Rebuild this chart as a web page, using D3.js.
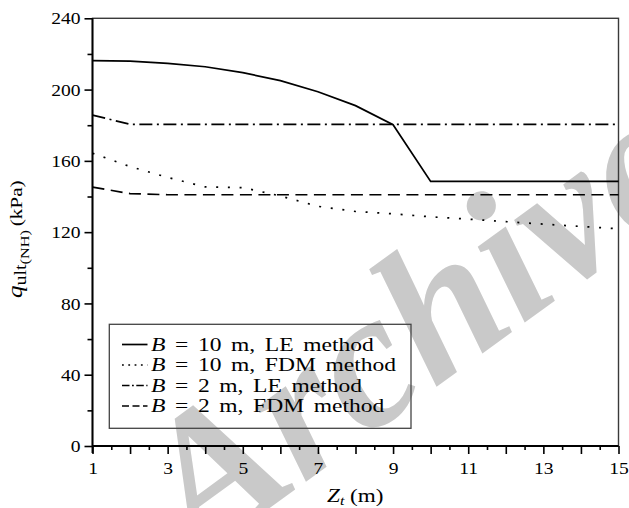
<!DOCTYPE html>
<html>
<head>
<meta charset="utf-8">
<script src="https://cdn.jsdelivr.net/npm/d3@7"></script>
<style>
  html, body { margin: 0; padding: 0; background: #fff; }
  svg { display: block; }
  text { font-family: "Liberation Serif", "Times New Roman", serif; fill: #000; }
</style>
</head>
<body>
<svg id="chart" width="629" height="508"></svg>
<script>
// Embedment depth Z_t (m)
const zt = [1, 2, 3, 4, 5, 6, 7, 8, 9, 10, 11, 12, 13, 14, 15];
// Ultimate bearing capacity q_ult(NH) (kPa)
const qB10LE  = [216.3, 216.0, 214.7, 212.8, 209.5, 205.0, 198.8, 191.0, 180.3, 148.5, 148.5, 148.5, 148.5, 148.5, 148.5];
const qB10FDM = [164.3, 156.8, 150.7, 145.4, 145.0, 140.3, 134.5, 131.6, 130.3, 128.6, 127.3, 125.9, 124.5, 123.2, 121.9];
const qB2LE   = [185.7, 180.5, 180.5, 180.5, 180.5, 180.5, 180.5, 180.5, 180.5, 180.5, 180.5, 180.5, 180.5, 180.5, 180.5];
const qB2FDM  = [145.3, 141.6, 141.0, 141.0, 141.0, 141.0, 141.0, 141.0, 141.0, 141.0, 141.0, 141.0, 141.0, 141.0, 141.0];

const xTickLabels = [1, 3, 5, 7, 9, 11, 13, 15];
const yTickLabels = [0, 40, 80, 120, 160, 200, 240];

const legendB      = ["10", "10", "2", "2"];
const legendMethod = ["LE method", "FDM method", "LE method", "FDM method"];

const series = [
  { values: qB10LE,  dash: null,             legDash: null },
  { values: qB10FDM, dash: "2 9.7",          legDash: "1.8 4.5" },
  { values: qB2LE,   dash: "13 4.5 2 4.5",   legDash: "7.5 2.5 1.8 2.5" },
  { values: qB2FDM,  dash: "12 6.5",         legDash: "7 3.5" }
];

const svg = d3.select("#chart");
const plotL = 92.5, plotR = 618.5, plotT = 18.3, plotB = 446;
const x = d3.scaleLinear().domain([1, 15]).range([plotL, plotR]);
const y = d3.scaleLinear().domain([0, 240]).range([plotB, plotT]);

// horizontally widen a single-run text element by factor k
function widen(sel, k) {
  sel.each(function () {
    const w = this.getComputedTextLength();
    d3.select(this).attr("textLength", w * k).attr("lengthAdjust", "spacingAndGlyphs");
  });
}

// faint diagonal watermark behind the plot
svg.append("text")
  .attr("transform", "translate(198,560) rotate(-36)")
  .style("font-size", "194px")
  .style("font-weight", "bold")
  .style("font-style", "italic")
  .style("fill", "#c9c9c9")
  .text("Archive");

// frame
svg.append("rect")
  .attr("x", plotL).attr("y", plotT)
  .attr("width", plotR - plotL).attr("height", plotB - plotT)
  .attr("fill", "none").attr("stroke", "#3a3a3a").attr("stroke-width", 1.4);

// curves
const line = d3.line().x((d, i) => x(zt[i])).y(d => y(d));
series.forEach(s => {
  svg.append("path")
    .datum(s.values)
    .attr("d", line)
    .attr("fill", "none")
    .attr("stroke", "#000")
    .attr("stroke-width", 1.7)
    .attr("stroke-dasharray", s.dash);
});

// x axis: integer ticks, half ticks, labels on odd values
svg.append("g").attr("transform", `translate(0,${plotB})`)
  .call(d3.axisBottom(x).tickValues(d3.range(1, 16)).tickSize(8).tickPadding(8)
    .tickFormat(d => xTickLabels.includes(d) ? d : ""));
svg.append("g").attr("transform", `translate(0,${plotB})`)
  .call(d3.axisBottom(x).tickValues(d3.range(1.5, 15, 1)).tickSize(4).tickFormat(""));

// y axis: major every 40, minor every 20
const yMajor = svg.append("g").attr("transform", `translate(${plotL},0)`)
  .call(d3.axisLeft(y).tickValues(yTickLabels).tickSize(8).tickPadding(4));
svg.append("g").attr("transform", `translate(${plotL},0)`)
  .call(d3.axisLeft(y).tickValues(d3.range(20, 240, 40)).tickSize(5).tickFormat(""));

svg.selectAll(".domain").remove();
svg.selectAll(".tick line").attr("stroke", "#000").attr("stroke-width", 1.6);
svg.selectAll(".tick text").style("font-size", "17px").attr("font-family", null);
yMajor.selectAll(".tick text").attr("dy", "0.33em");
widen(svg.selectAll(".tick text"), 1.15);

// axis lines
svg.append("line").attr("x1", plotL).attr("x2", plotL).attr("y1", plotT).attr("y2", plotB + 7)
  .attr("stroke", "#000").attr("stroke-width", 1.9);
svg.append("line").attr("x1", plotL).attr("x2", plotR).attr("y1", plotB).attr("y2", plotB)
  .attr("stroke", "#000").attr("stroke-width", 1.9);

// x axis title: Z_t (m)
const xt = svg.append("text").attr("transform", "translate(327,502) scale(1.22,1)").style("font-size", "19px");
xt.append("tspan").style("font-style", "italic").text("Z");
xt.append("tspan").style("font-style", "italic").style("font-size", "13px").attr("dy", 3).text("t");
xt.append("tspan").attr("dy", -3).text(" (m)");

// y axis title: q_ult(NH) (kPa)
const yt = svg.append("text").attr("transform", "translate(22,298) rotate(-90) scale(1.25,1)").style("font-size", "20px");
yt.append("tspan").style("font-style", "italic").text("q");
yt.append("tspan").style("font-size", "16px").attr("dy", 4).text("ult");
yt.append("tspan").style("font-size", "13px").attr("dy", 3).text("(NH)");
yt.append("tspan").style("font-size", "17px").attr("dy", -7).attr("dx", 3).text("(kPa)");

// legend (transparent box, watermark shows through)
const lg = svg.append("g");
lg.append("rect").attr("x", 109.3).attr("y", 324.3).attr("width", 301.7).attr("height", 104)
  .attr("fill", "none").attr("stroke", "#444").attr("stroke-width", 1.3);
const rowY = d3.scalePoint().domain(d3.range(series.length)).range([344.5, 406]);
series.forEach((s, i) => {
  const yy = rowY(i);
  lg.append("line").attr("x1", 122).attr("x2", 147.5).attr("y1", yy).attr("y2", yy)
    .attr("stroke", "#000").attr("stroke-width", 1.7).attr("stroke-dasharray", s.legDash);
  const t = lg.append("text")
    .attr("transform", `translate(151,${yy + 6}) scale(1.24,1)`)
    .style("font-size", "19px")
    .style("word-spacing", "3px");
  t.append("tspan").style("font-style", "italic").text("B");
  t.append("tspan").text(` = ${legendB[i]} m, ${legendMethod[i]}`);
});
</script>
</body>
</html>
